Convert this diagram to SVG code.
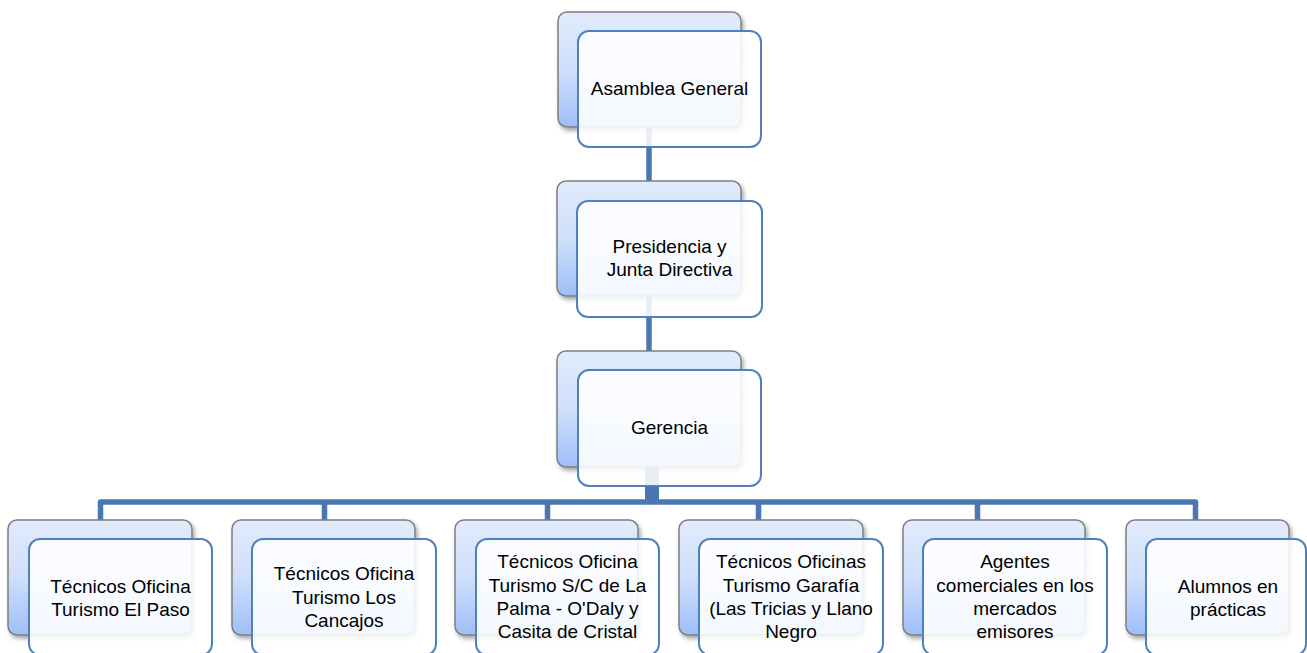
<svg xmlns="http://www.w3.org/2000/svg" width="1307" height="653" viewBox="0 0 1307 653">
<defs>
<linearGradient id="bg" x1="0" y1="0" x2="0" y2="1">
<stop offset="0" stop-color="#e1ebfc"/>
<stop offset="0.5" stop-color="#cfdffb"/>
<stop offset="1" stop-color="#9ebef9"/>
</linearGradient>
<filter id="sh" x="-10%" y="-10%" width="130%" height="130%">
<feDropShadow dx="2" dy="3" stdDeviation="2" flood-color="#000" flood-opacity="0.35"/>
</filter>
<style>
.back{fill:url(#bg);stroke:#7f7f7f;stroke-width:1.5;filter:url(#sh)}
.front{fill:#ffffff;fill-opacity:0.88;stroke:#4f81bd;stroke-width:2}
.lbl{font-family:"Liberation Sans",Arial,sans-serif;font-size:19px;fill:#000;text-anchor:middle}
.con{fill:none;stroke:#4a77b0;stroke-width:5.5;stroke-linejoin:round}
</style>
</defs>
<rect width="1307" height="653" fill="#ffffff"/>
<g id="connectors">
<path class="con" d="M649,70 V250"/>
<path class="con" d="M649,250 V420"/>
<rect x="645" y="440" width="14" height="62" fill="#4a77b0"/>
<path class="con" d="M100.5,530 V502 H1195.5 V530"/>
<path class="con" d="M324.5,502 V530"/>
<path class="con" d="M547.5,502 V530"/>
<path class="con" d="M758.5,502 V530"/>
<path class="con" d="M977.5,502 V530"/>
</g>
<g id="n-asamblea">
<rect class="back" x="558" y="12" width="183" height="115" rx="9"/>
<rect class="front" x="578" y="31" width="183" height="116" rx="11"/>
<text class="lbl" x="669.5" y="95">Asamblea General</text>
</g>
<g id="n-presidencia">
<rect class="back" x="557" y="181" width="184" height="115" rx="9"/>
<rect class="front" x="577" y="201" width="185" height="116" rx="11"/>
<text class="lbl" x="669.5" y="253">Presidencia y</text>
<text class="lbl" x="669.5" y="276">Junta Directiva</text>
</g>
<g id="n-gerencia">
<rect class="back" x="557" y="351" width="184" height="116" rx="9"/>
<rect class="front" x="578" y="370" width="183" height="116" rx="11"/>
<text class="lbl" x="669.5" y="434">Gerencia</text>
</g>
<g id="n-elpaso">
<rect class="back" x="8" y="520" width="184" height="115" rx="9"/>
<rect class="front" x="29" y="539" width="183" height="116" rx="11"/>
<text class="lbl" x="120.5" y="592.5">Técnicos Oficina</text>
<text class="lbl" x="120.5" y="615.5">Turismo El Paso</text>
</g>
<g id="n-cancajos">
<rect class="back" x="232" y="520" width="183" height="115" rx="9"/>
<rect class="front" x="252" y="539" width="184" height="116" rx="11"/>
<text class="lbl" x="344" y="580">Técnicos Oficina</text>
<text class="lbl" x="344" y="603.5">Turismo Los</text>
<text class="lbl" x="344" y="627">Cancajos</text>
</g>
<g id="n-scpalma">
<rect class="back" x="455" y="520" width="183" height="115" rx="9"/>
<rect class="front" x="476" y="539" width="183" height="116" rx="11"/>
<text class="lbl" x="567.5" y="568">Técnicos Oficina</text>
<text class="lbl" x="567.5" y="591.5">Turismo S/C de La</text>
<text class="lbl" x="567.5" y="615">Palma - O'Daly y</text>
<text class="lbl" x="567.5" y="638">Casita de Cristal</text>
</g>
<g id="n-garafia">
<rect class="back" x="679" y="520" width="184" height="115" rx="9"/>
<rect class="front" x="699" y="539" width="184" height="116" rx="11"/>
<text class="lbl" x="791" y="568">Técnicos Oficinas</text>
<text class="lbl" x="791" y="591.5">Turismo Garafía</text>
<text class="lbl" x="791" y="615">(Las Tricias y Llano</text>
<text class="lbl" x="791" y="638">Negro</text>
</g>
<g id="n-agentes">
<rect class="back" x="903" y="520" width="182" height="115" rx="9"/>
<rect class="front" x="923" y="539" width="184" height="116" rx="11"/>
<text class="lbl" x="1015" y="568">Agentes</text>
<text class="lbl" x="1015" y="591.5">comerciales en los</text>
<text class="lbl" x="1015" y="614.5">mercados</text>
<text class="lbl" x="1015" y="638">emisores</text>
</g>
<g id="n-alumnos">
<rect class="back" x="1126" y="520" width="163" height="115" rx="9"/>
<rect class="front" x="1146" y="539" width="160" height="116" rx="11"/>
<text class="lbl" x="1228" y="592.5">Alumnos en</text>
<text class="lbl" x="1228" y="615.5">prácticas</text>
</g>
</svg>
